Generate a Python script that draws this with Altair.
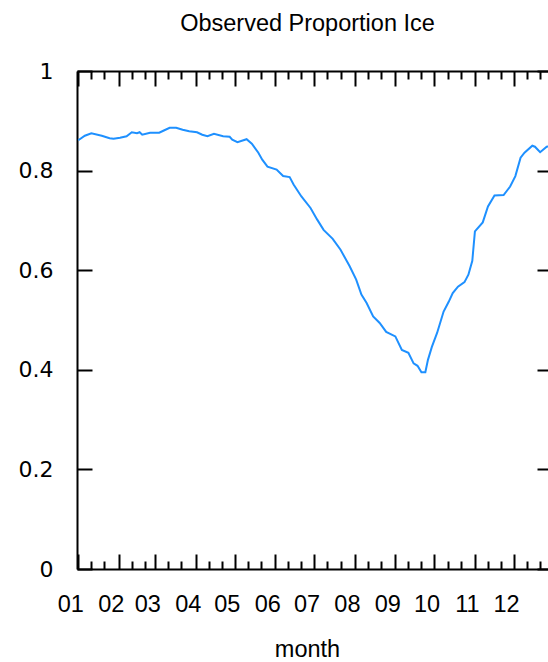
import altair as alt
import pandas as pd

# ---- data (day of year since Jan 1, observed proportion) ----
day_of_year = [0, 5, 10, 18, 24, 27, 32, 37, 41, 45,
               47, 49, 55, 62, 66, 70, 75, 80, 85, 91,
               95, 99, 104, 111, 116, 118, 122, 129, 133, 138,
               141, 145, 152, 157, 162, 165, 171, 178, 183, 188,
               195, 201, 208, 213, 217, 221, 226, 231, 236, 243,
               248, 253, 257, 260, 263, 266, 268, 271, 275, 280,
               284, 287, 291, 296, 299, 302, 304, 310, 314, 319,
               326, 331, 335, 339, 342, 348, 350, 354, 359, 364]
proportion_ice = [0.861, 0.870, 0.875, 0.870, 0.865, 0.864, 0.866, 0.869, 0.877, 0.875,
                  0.877, 0.872, 0.876, 0.876, 0.881, 0.886, 0.886, 0.882, 0.879, 0.877,
                  0.872, 0.869, 0.874, 0.869, 0.868, 0.862, 0.857, 0.863, 0.854, 0.836,
                  0.822, 0.808, 0.802, 0.789, 0.787, 0.772, 0.748, 0.725, 0.702, 0.681,
                  0.663, 0.641, 0.608, 0.581, 0.551, 0.534, 0.507, 0.494, 0.476, 0.467,
                  0.440, 0.434, 0.413, 0.408, 0.395, 0.395, 0.420, 0.446, 0.474, 0.517,
                  0.537, 0.554, 0.567, 0.576, 0.591, 0.619, 0.678, 0.696, 0.728, 0.750,
                  0.751, 0.768, 0.789, 0.826, 0.836, 0.850, 0.848, 0.837, 0.848, 0.850]

month_labels = ["01", "02", "03", "04", "05", "06", "07", "08", "09", "10", "11", "12"]
month_start_days = [0, 31, 59, 90, 120, 151, 181, 212, 243, 273, 304, 334]
y_tick_values = [0, 0.2, 0.4, 0.6, 0.8, 1]

minor_days = sorted(s + o for s in month_start_days for o in (10, 20))

df = pd.DataFrame({"day": day_of_year, "ice": proportion_ice})

label_expr = ("[" + ",".join(f"'{m}'" for m in month_labels) + "][indexof(["
              + ",".join(str(d) for d in month_start_days) + "], datum.value)]")

xscale = alt.Scale(domain=[-1, 365], range=[0, 477.5], nice=False, zero=False)
yscale = alt.Scale(domain=[0, 1], nice=False, zero=False)

INK = "#000000"
common = dict(grid=False, domainColor=INK, tickColor=INK, domainWidth=2, tickWidth=2,
              labelFlush=False, labelOverlap=False)

# x axes
axD = alt.Axis(orient="bottom", values=month_start_days, labelExpr=label_expr,
               ticks=False, tickSize=0, domain=True, labelFont="Liberation Sans",
               labelFontSize=23.5, labelColor=INK, labelPadding=23, labelOffset=-8,
               title="month", titleFont="Liberation Sans", titleFontSize=23.5,
               titleFontWeight="normal", titleColor=INK, titleX=230, titleY=87,
               titleBaseline="alphabetic", titleAlign="center", **common)
axE = alt.Axis(orient="bottom", values=month_start_days, labels=False, domain=False,
               ticks=True, tickSize=15, offset=-15, title="", **common)
axF = alt.Axis(orient="bottom", values=minor_days, labels=False, domain=False,
               ticks=True, tickSize=8, offset=-8, title="", **common)
axG = alt.Axis(orient="top", values=month_start_days, labels=False, domain=True,
               ticks=False, tickSize=0, title="", **common)
axH = alt.Axis(orient="top", values=month_start_days, labels=False, domain=False,
               ticks=True, tickSize=15, offset=-15, title="", **common)
axI = alt.Axis(orient="top", values=minor_days, labels=False, domain=False,
               ticks=True, tickSize=8, offset=-8, title="", **common)

# y axes
axA = alt.Axis(orient="left", values=y_tick_values, format="~g", ticks=False, tickSize=0,
               domain=True, labelFont="DejaVu Sans", labelFontSize=22, labelColor=INK,
               labelPadding=24, title="", **common)
axB = alt.Axis(orient="left", values=y_tick_values, labels=False, domain=False,
               ticks=True, tickSize=15, offset=-15, title="", **common)
axC = alt.Axis(orient="right", values=y_tick_values, labels=False, domain=False,
               ticks=True, tickSize=15, offset=-11, title="", **common)

base = alt.Chart(df)


def ghost(xaxis, yaxis):
    return base.mark_line(opacity=0).encode(
        x=alt.X("day:Q", scale=xscale, axis=xaxis),
        y=alt.Y("ice:Q", scale=yscale, axis=yaxis),
    )


line = base.mark_line(color="#1e90ff", strokeWidth=2).encode(
    x=alt.X("day:Q", scale=xscale, axis=axD),
    y=alt.Y("ice:Q", scale=yscale, axis=axA),
)

chart = alt.layer(
    line,
    ghost(axE, axB),
    ghost(axF, axC),
    ghost(axG, None),
    ghost(axH, None),
    ghost(axI, None),
).resolve_axis(x="independent", y="independent").properties(
    width=471,
    height=498,
    autosize=alt.AutoSizeParams(type="none"),
    padding={"left": 77, "top": 71, "right": 0, "bottom": 93},
    title=alt.TitleParams("Observed Proportion Ice", font="Liberation Sans", fontSize=23.5,
                          fontWeight="normal", color=INK, anchor="middle", frame="group",
                          dx=-5, baseline="alphabetic", offset=6),
).configure_view(stroke="transparent")

chart.save("out.html", embed_options={"renderer": "svg", "actions": False})
